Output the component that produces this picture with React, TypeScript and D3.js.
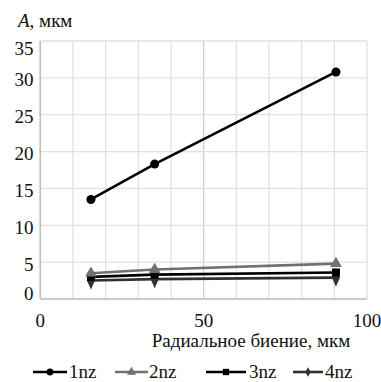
import React from "react";
import * as d3 from "d3";

const xValues = [15.5, 35, 90.5];
const s1nz = [13.5, 18.3, 30.8];
const s2nz = [3.5, 4.0, 4.8];
const s3nz = [3.0, 3.3, 3.6];
const s4nz = [2.5, 2.7, 2.9];
const seriesNames = ["1nz", "2nz", "3nz", "4nz"];
const yTicks = [0, 5, 10, 15, 20, 25, 30, 35];
const xTicks = [0, 50, 100];
const xGrid = [0, 10, 20, 30, 40, 50, 60, 70, 80, 90, 100];

const W = 381, H = 382;
const FONT = "'Liberation Serif', 'Times New Roman', Times, 'DejaVu Serif', serif";

const x = d3.scaleLinear().domain([0, 100]).range([40.3, 367]);
const y = d3.scaleLinear().domain([0, 35]).range([299, 41]);

type Ser = { name: string; values: number[]; color: string; marker: string };
const series: Ser[] = [
  { name: seriesNames[0], values: s1nz, color: "#000", marker: "circle" },
  { name: seriesNames[1], values: s2nz, color: "#707070", marker: "triangle" },
  { name: seriesNames[2], values: s3nz, color: "#000", marker: "square" },
  { name: seriesNames[3], values: s4nz, color: "#303030", marker: "diamond" },
];

const symType: Record<string, d3.SymbolType> = {
  circle: d3.symbolCircle,
  triangle: d3.symbolTriangle,
  square: d3.symbolSquare,
  diamond: d3.symbolDiamond,
};
const symSize: Record<string, number> = { circle: 64, triangle: 60, square: 64, diamond: 56 };
const legSize: Record<string, number> = { circle: 36, triangle: 36, square: 40, diamond: 26 };

function Marker({ m, cx, cy, color, size, sx = 1, sy = 1 }: any) {
  const p = d3.symbol().type(symType[m]).size(size)() as string;
  return <path d={p} transform={`translate(${cx},${cy}) scale(${sx},${sy})`} fill={color} />;
}

const legendPos = [
  { x1: 33, x2: 67, tx: 69 },
  { x1: 115, x2: 148, tx: 149 },
  { x1: 206, x2: 246, tx: 249 },
  { x1: 293, x2: 323, tx: 325 },
];

const txt = { fontFamily: FONT, fill: "#111" } as const;

export default function App() {
  const line = d3.line<number>().x((_, i) => x(xValues[i])).y((d) => y(d));
  return (
    <svg width={W} height={H} style={{ position: "absolute", left: 0, top: 0, background: "#fff", fontFamily: FONT }}>
      <rect width={W} height={H} fill="#fff" />
      {xGrid.map((v) => (
        <line key={"gx" + v} x1={x(v)} x2={x(v)} y1={y(35)} y2={y(0)} stroke={v === 50 ? "#cfcfcf" : "#e0e0e0"} strokeWidth={1.3} />
      ))}
      {yTicks.map((v) => (
        <line key={"gy" + v} x1={x(0)} x2={x(100)} y1={y(v)} y2={y(v)} stroke="#e0e0e0" strokeWidth={1.3} />
      ))}
      <line x1={x(0)} x2={x(0)} y1={y(35)} y2={y(0)} stroke="#c0c0c0" strokeWidth={1.6} />
      <line x1={x(0)} x2={x(100)} y1={y(0)} y2={y(0)} stroke="#c0c0c0" strokeWidth={1.6} />
      {yTicks.map((v) => (
        <text key={"ty" + v} x={33.5} y={Math.min(294, Math.max(49, y(v) + 2))} dy="0.34em" textAnchor="end" style={txt} fontSize={19}>
          {v}
        </text>
      ))}
      {xTicks.map((v) => (
        <text key={"tx" + v} x={x(v)} y={327} textAnchor="middle" style={txt} fontSize={19}>
          {v}
        </text>
      ))}
      <text x={18} y={27} style={txt} fontSize={19}>
        <tspan fontStyle="italic">A</tspan>, мкм
      </text>
      <text x={251} y={347} textAnchor="middle" style={txt} fontSize={19}>
        Радиальное биение, мкм
      </text>
      {[3, 2, 1, 0].map((k) => {
        const s = series[k];
        return (
          <g key={s.name}>
            <path d={line(s.values) as string} fill="none" stroke={s.color} strokeWidth={2.6} />
            {s.values.map((v, i) => (
              <Marker key={i} m={s.marker} cx={x(xValues[i])} cy={y(v)} color={s.color} size={symSize[s.marker]} sy={s.marker === "diamond" ? 1.3 : 1} />
            ))}
          </g>
        );
      })}
      {series.map((s, k) => {
        const p = legendPos[k];
        return (
          <g key={"lg" + s.name}>
            <line x1={p.x1} x2={p.x2} y1={372} y2={372} stroke={s.color} strokeWidth={2.6} />
            <Marker m={s.marker} cx={(p.x1 + p.x2) / 2} cy={372} color={s.color} size={legSize[s.marker]} />
            <text x={p.tx} y={372} dy="0.34em" style={txt} fontSize={19}>
              {s.name}
            </text>
          </g>
        );
      })}
    </svg>
  );
}
